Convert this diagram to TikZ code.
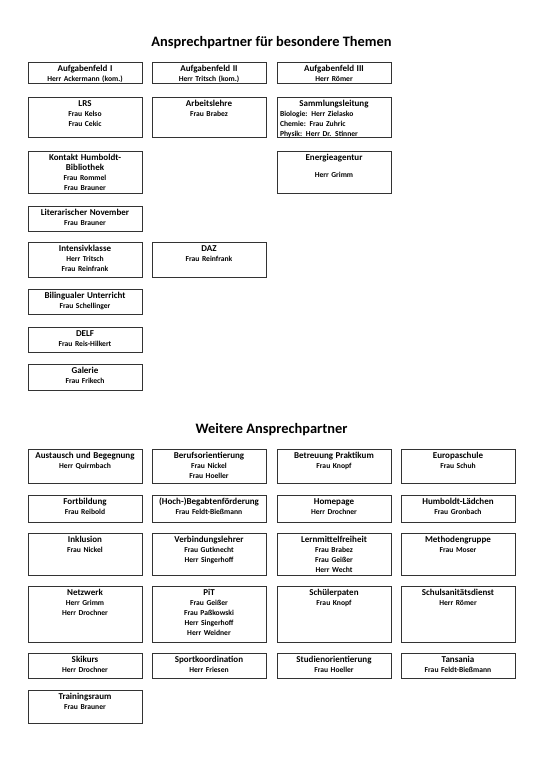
\documentclass[tikz,border=0pt]{standalone}
\usepackage{fontspec}
\setmainfont{Carlito}

\newcommand{\kopf}[1]{{\fontsize{9}{10}\selectfont #1}}
\newcommand{\links}[1]{\makebox[108pt][l]{#1}}
% box: name, left x, top y, bottom y, text
\newcommand{\feldbox}[5]{%
  \draw[feld] (#2,#3) rectangle (#2+114,#4);
  \node[feldtext] (#1) at (#2+57,#3) {#5};
}

\begin{document}
\begin{tikzpicture}[x=1pt,y=-1pt]

    \tikzset{
      feld/.style={
        draw=black!80,
        line width=0.8pt,
      },
      feldtext/.style={
        anchor=north,
        text width=108pt,
        align=center,
        inner xsep=2pt,
        inner ysep=3pt,
        font=\fontsize{7.6}{10}\selectfont\bfseries,
      },
      ueberschrift/.style={
        font=\fontsize{14.4}{17}\selectfont\bfseries,
      },
    }
    \fill[white] (0,0) rectangle (543,768);
    \useasboundingbox (0,0) rectangle (543,768);

	\node[ueberschrift] (titel1) at (271.5,43) {Ansprechpartner für besondere Themen};

	\feldbox{aufg1}{28}{62}{83}{\kopf{Aufgabenfeld I}\\Herr Ackermann (kom.)}
	\feldbox{aufg2}{152}{62}{83}{\kopf{Aufgabenfeld II}\\Herr Tritsch (kom.)}
	\feldbox{aufg3}{277}{62}{83}{\kopf{Aufgabenfeld III}\\Herr Römer}

	\feldbox{lrs}{28}{97}{137}{\kopf{LRS}\\Frau Kelso\\Frau Cekic}
	\feldbox{arbeit}{152}{97}{137}{\kopf{Arbeitslehre}\\Frau Brabez}
	\feldbox{samml}{277}{97}{137}{\kopf{Sammlungsleitung}\\\links{Biologie: Herr Zielasko}\\\links{Chemie: Frau Zuhric}\\\links{Physik: Herr Dr. Stinner}}

	\feldbox{kontakt}{28}{151}{193}{\kopf{Kontakt Humboldt-\\Bibliothek}\\Frau Rommel\\Frau Brauner}
	\feldbox{energie}{277}{151}{193}{\kopf{Energieagentur}\\[7pt]Herr Grimm}

	\feldbox{litnov}{28}{206}{231}{\kopf{Literarischer November}\\Frau Brauner}
	\feldbox{intensiv}{28}{242}{277}{\kopf{Intensivklasse}\\Herr Tritsch\\Frau Reinfrank}
	\feldbox{daz}{152}{242}{277}{\kopf{DAZ}\\Frau Reinfrank}
	\feldbox{biling}{28}{289}{314}{\kopf{Bilingualer Unterricht}\\Frau Schellinger}
	\feldbox{delf}{28}{327}{352}{\kopf{DELF}\\Frau Reis-Hilkert}
	\feldbox{galerie}{28}{364}{390}{\kopf{Galerie}\\Frau Frikech}

	\node[ueberschrift] (titel2) at (271.5,430) {Weitere Ansprechpartner};

	\feldbox{austausch}{28}{449}{483}{\kopf{Austausch und Begegnung}\\Herr Quirmbach}
	\feldbox{beruf}{152}{449}{483}{\kopf{Berufsorientierung}\\Frau Nickel\\Frau Hoeller}
	\feldbox{praktikum}{277}{449}{483}{\kopf{Betreuung Praktikum}\\Frau Knopf}
	\feldbox{europa}{401}{449}{483}{\kopf{Europaschule}\\Frau Schuh}

	\feldbox{fortbildung}{28}{495}{522}{\kopf{Fortbildung}\\Frau Reibold}
	\feldbox{begabten}{152}{495}{522}{\kopf{(Hoch-)Begabtenförderung}\\Frau Feldt-Bießmann}
	\feldbox{homepage}{277}{495}{522}{\kopf{Homepage}\\Herr Drochner}
	\feldbox{laedchen}{401}{495}{522}{\kopf{Humboldt-Lädchen}\\Frau Gronbach}

	\feldbox{inklusion}{28}{533}{575}{\kopf{Inklusion}\\Frau Nickel}
	\feldbox{verbindung}{152}{533}{575}{\kopf{Verbindungslehrer}\\Frau Gutknecht\\Herr Singerhoff}
	\feldbox{lernmittel}{277}{533}{575}{\kopf{Lernmittelfreiheit}\\Frau Brabez\\Frau Geißer\\Herr Wecht}
	\feldbox{methoden}{401}{533}{575}{\kopf{Methodengruppe}\\Frau Moser}

	\feldbox{netzwerk}{28}{586}{642}{\kopf{Netzwerk}\\Herr Grimm\\Herr Drochner}
	\feldbox{pit}{152}{586}{642}{\kopf{PiT}\\Frau Geißer\\Frau Paßkowski\\Herr Singerhoff\\Herr Weidner}
	\feldbox{paten}{277}{586}{642}{\kopf{Schülerpaten}\\Frau Knopf}
	\feldbox{sanitaet}{401}{586}{642}{\kopf{Schulsanitätsdienst}\\Herr Römer}

	\feldbox{skikurs}{28}{653}{678}{\kopf{Skikurs}\\Herr Drochner}
	\feldbox{sport}{152}{653}{678}{\kopf{Sportkoordination}\\Herr Friesen}
	\feldbox{studien}{277}{653}{678}{\kopf{Studienorientierung}\\Frau Hoeller}
	\feldbox{tansania}{401}{653}{678}{\kopf{Tansania}\\Frau Feldt-Bießmann}

	\feldbox{training}{28}{690}{723}{\kopf{Trainingsraum}\\Frau Brauner}

\end{tikzpicture}
\end{document}
